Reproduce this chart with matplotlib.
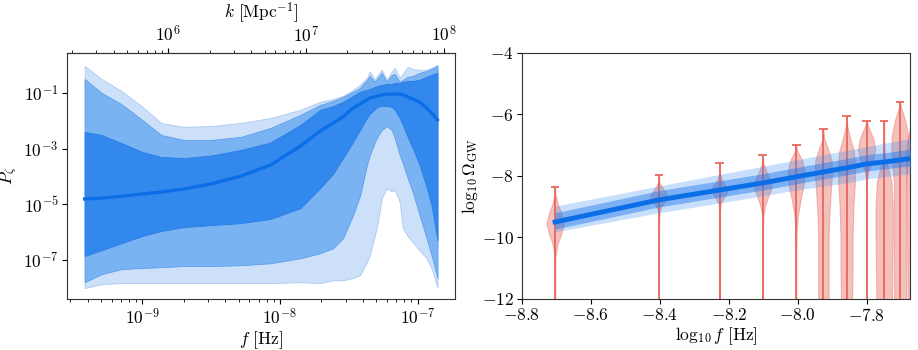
import numpy as np
import matplotlib
matplotlib.use("Agg")
import matplotlib.pyplot as plt
from matplotlib.ticker import NullFormatter, NullLocator

plt.rcParams.update({
    "font.family": "serif",
    "font.serif": ["cmr10"],
    "mathtext.fontset": "cm",
    "axes.formatter.use_mathtext": True,
    "axes.unicode_minus": True,
    "font.size": 12.5,
    "xtick.labelsize": 12.5,
    "ytick.labelsize": 12.5,
    "xtick.major.pad": 2.5,
    "ytick.major.pad": 2.5,
    "axes.edgecolor": "0.2",
})

# ---- left panel: P_zeta posterior bands, log10 values
log_f = [-9.419, -9.296, -9.152, -9.000, -8.863, -8.697, -8.502, -8.285, -8.069,
         -7.852, -7.708, -7.614, -7.542, -7.469, -7.419, -7.368, -7.347, -7.310,
         -7.289, -7.260, -7.224, -7.188, -7.166, -7.130, -7.108, -7.072, -7.036,
         -6.986, -6.935, -6.899, -6.856]
light_hi = [-0.03, -0.50, -0.93, -1.50, -2.08, -2.22, -2.19, -2.08, -1.90,
            -1.61, -1.32, -1.22, -1.11, -0.89, -0.71, -0.46, -0.24, -0.53,
            -0.35, -0.17, -0.53, -0.24, -0.10, -0.46, -0.32, -0.06, -0.14,
            -0.17, -0.17, -0.10, 0.01]
mid_hi = [-0.50, -1.00, -1.40, -1.97, -2.51, -2.69, -2.69, -2.58, -2.26,
          -1.79, -1.43, -1.29, -1.14, -0.96, -0.82, -0.53, -0.39, -0.60,
          -0.46, -0.28, -0.60, -0.35, -0.32, -0.60, -0.53, -0.42, -0.39,
          -0.28, -0.21, -0.14, -0.03]
dark_hi = [-2.40, -2.51, -2.80, -3.12, -3.30, -3.34, -3.25, -3.05, -2.78,
           -2.15, -1.61, -1.47, -1.32, -1.11, -0.96, -0.89, -0.86, -0.78,
           -0.75, -0.71, -0.68, -0.68, -0.64, -0.64, -0.60, -0.57, -0.57,
           -0.53, -0.42, -0.35, -0.28]
median = [-4.81, -4.78, -4.71, -4.63, -4.56, -4.45, -4.27, -3.99, -3.59,
          -2.91, -2.37, -2.08, -1.86, -1.54, -1.40, -1.25, -1.18, -1.14,
          -1.11, -1.07, -1.04, -1.04, -1.04, -1.04, -1.07, -1.14, -1.22,
          -1.32, -1.54, -1.72, -1.97]
dark_lo = [-6.86, -6.65, -6.40, -6.14, -5.96, -5.82, -5.75, -5.68, -5.53,
           -5.14, -4.42, -3.91, -3.34, -2.76, -2.33, -1.90, -1.75, -1.58,
           -1.50, -1.47, -1.47, -1.50, -1.61, -1.90, -2.15, -2.58, -2.98,
           -3.59, -4.38, -5.03, -6.29]
mid_lo = [-7.80, -7.51, -7.33, -7.29, -7.26, -7.22, -7.22, -7.19, -7.12,
          -6.94, -6.76, -6.58, -6.22, -5.39, -4.71, -3.59, -3.23, -2.76,
          -2.55, -2.33, -2.19, -2.33, -2.62, -3.23, -3.52, -4.06, -4.56,
          -5.39, -6.22, -6.83, -7.65]
light_lo = [-8.01, -7.87, -7.83, -7.83, -7.83, -7.83, -7.83, -7.83, -7.83,
            -7.80, -7.83, -7.73, -7.73, -7.65, -7.55, -7.08, -6.83, -6.11,
            -5.64, -4.78, -4.42, -4.53, -4.49, -4.92, -5.86, -6.14, -6.37,
            -6.65, -6.94, -7.29, -7.98]
f_ticks = [1e-9, 1e-8, 1e-7]
k_ticks = [1e6, 1e7, 1e8]
p_ticks = [1e-7, 1e-5, 1e-3, 1e-1]

# ---- right panel: Omega_GW model band
gw_x = [-8.704, -8.403, -8.227, -8.102, -8.005, -7.926, -7.859, -7.801, -7.750, -7.704, -7.662]
gw_center = [-9.50, -8.78, -8.46, -8.23, -8.03, -7.87, -7.74, -7.61, -7.55, -7.48, -7.42]
gw_light_hi = [-8.98, -8.33, -7.95, -7.69, -7.48, -7.31, -7.17, -7.05, -6.94, -6.85, -6.75]
gw_light_lo = [-9.82, -9.20, -8.88, -8.65, -8.46, -8.33, -8.23, -8.10, -8.03, -7.97, -7.90]
gw_mid_hi = [-9.20, -8.48, -8.16, -7.93, -7.73, -7.57, -7.44, -7.31, -7.25, -7.18, -7.12]
gw_mid_lo = [-9.73, -9.01, -8.69, -8.46, -8.26, -8.10, -7.97, -7.84, -7.78, -7.71, -7.65]

# ---- NANOGrav-like violins (position, top, density profile)
viol_pos = [-8.704, -8.403, -8.227, -8.102, -8.005, -7.926, -7.859, -7.801, -7.750, -7.704, -7.662]
viol_max = [-8.36, -7.97, -7.58, -7.32, -6.99, -6.47, -6.05, -6.21, -6.21, -5.59, -5.60]
viol_min = [-14.0] * 11
viol_y = [
    [-8.36, -8.6, -8.9, -9.2, -9.55, -9.9, -10.2, -10.6, -11.0, -14.0],
    [-7.97, -8.2, -8.4, -8.65, -8.9, -9.1, -9.4, -10.0, -14.0],
    [-7.58, -7.9, -8.15, -8.45, -8.7, -8.9, -9.2, -10.0, -14.0],
    [-7.32, -7.6, -7.9, -8.2, -8.4, -8.7, -9.0, -9.3, -9.8, -14.0],
    [-6.99, -7.2, -7.5, -7.9, -8.4, -8.8, -9.3, -9.8, -10.5, -14.0],
    [-6.47, -6.8, -7.1, -7.5, -7.9, -8.5, -9.2, -10.0, -11.0, -12.0, -13.0, -14.0],
    [-6.05, -6.4, -6.8, -7.2, -7.7, -8.3, -9.0, -10.0, -11.0, -12.0, -14.0],
    [-6.21, -6.4, -6.8, -7.15, -7.5, -7.8, -8.1, -9.0, -14.0],
    [-6.21, -7.0, -7.4, -7.8, -8.2, -9.0, -10.0, -11.0, -12.0, -13.0, -14.0],
    [-5.59, -5.8, -6.2, -6.7, -7.1, -7.6, -8.3, -9.5, -11.0, -12.0, -14.0],
    [-5.60, -6.0, -6.4, -7.0, -7.5, -8.5, -10.0, -12.0, -14.0],
]
viol_d = [
    [0, 0.05, 0.3, 0.7, 1.0, 0.7, 0.3, 0.05, 0.01, 0],
    [0, 0.05, 0.45, 1.0, 0.5, 0.12, 0.03, 0.01, 0],
    [0, 0.03, 0.3, 1.0, 0.5, 0.12, 0.03, 0.01, 0],
    [0, 0.08, 0.5, 0.95, 1.0, 0.6, 0.25, 0.06, 0.02, 0],
    [0, 0.15, 0.7, 1.0, 0.8, 0.5, 0.2, 0.06, 0.02, 0],
    [0, 0.1, 0.5, 0.95, 1.0, 0.85, 0.7, 0.6, 0.6, 0.6, 0.5, 0.3],
    [0, 0.1, 0.45, 0.85, 1.0, 0.95, 0.8, 0.7, 0.7, 0.65, 0.3],
    [0, 0.2, 0.8, 1.0, 0.7, 0.25, 0.05, 0.02, 0.01],
    [0, 0.03, 0.1, 0.5, 0.85, 1.0, 1.0, 0.95, 0.9, 0.7, 0.3],
    [0, 0.15, 0.6, 0.95, 1.0, 0.85, 0.7, 0.7, 0.7, 0.7, 0.3],
    [0, 0.2, 0.5, 0.9, 1.0, 0.9, 0.85, 0.8, 0.3],
]

C_LIGHT = "#cce0f9"
C_MID = "#7ab3f1"
C_DARK = "#3388ee"
C_LINE = "#0b6ee6"
C_RED = "#e8645a"

fig = plt.figure(figsize=(9.18, 3.5), dpi=100)
ax1 = fig.add_axes([0.073, 0.146, 0.4227, 0.703])
ax2 = fig.add_axes([0.5686, 0.146, 0.4227, 0.703])

# left panel
f = 10 ** np.array(log_f)
p = lambda a: 10 ** np.array(a)
ax1.fill_between(f, p(light_lo), p(light_hi), color=C_LIGHT, lw=0.6, edgecolor="#a9caf4")
ax1.fill_between(f, p(mid_lo), p(mid_hi), color=C_MID, lw=0.6, edgecolor="#5c9eee")
ax1.fill_between(f, p(dark_lo), p(dark_hi), color=C_DARK, lw=0.6, edgecolor="#2a7de6")
ax1.plot(f, p(median), color=C_LINE, lw=2.4)
ax1.set_xscale("log")
ax1.set_yscale("log")
ax1.set_xlim(10 ** -9.547, 10 ** -6.728)
ax1.set_ylim(10 ** -8.40, 10 ** 0.44)
ax1.set_xticks(f_ticks)
ax1.set_yticks(p_ticks)
ax1.yaxis.set_minor_locator(NullLocator())
ax1.xaxis.set_minor_formatter(NullFormatter())
ax1.set_xlabel(r"$f\ [\mathrm{Hz}]$", labelpad=1)
ax1.set_ylabel(r"$P_\zeta$", labelpad=3)

k_per_f = 10 ** 14.811
sec = ax1.secondary_xaxis("top", functions=(lambda x: x * k_per_f, lambda k: k / k_per_f))
sec.set_xticks(k_ticks)
sec.xaxis.set_minor_formatter(NullFormatter())
sec.set_xlabel(r"$k\ [\mathrm{Mpc}^{-1}]$", labelpad=5)

# right panel
vpstats = []
for i in range(len(viol_pos)):
    vpstats.append({
        "coords": np.array(viol_y[i]),
        "vals": np.array(viol_d[i], dtype=float),
        "mean": viol_y[i][0], "median": viol_y[i][0],
        "min": viol_min[i], "max": viol_max[i],
    })
parts = ax2.violin(vpstats, positions=viol_pos, widths=0.05)
for b in parts["bodies"]:
    b.set_facecolor(C_RED)
    b.set_edgecolor(C_RED)
    b.set_alpha(0.4)
    b.set_linewidth(0.8)
for key in ("cmaxes", "cmins", "cbars"):
    parts[key].set_color(C_RED)
    parts[key].set_linewidth(1.4)
    parts[key].set_alpha(0.9)

ax2.fill_between(gw_x, gw_light_lo, gw_light_hi, color="#3a8ef2", alpha=0.28, lw=0, zorder=3)
ax2.fill_between(gw_x, gw_mid_lo, gw_mid_hi, color="#1f78ec", alpha=0.45, lw=0, zorder=3)
ax2.plot(gw_x, gw_center, color=C_LINE, lw=3.5, zorder=4)

ax2.set_xlim(-8.8, -7.675)
ax2.set_ylim(-12, -4)
ax2.set_yticks([-12, -10, -8, -6, -4])
ax2.set_xlabel(r"$\log_{10} f\ [\mathrm{Hz}]$", labelpad=1)
ax2.set_ylabel(r"$\log_{10}\Omega_{\rm GW}$", labelpad=1)

fig.savefig("out.png", dpi=100)
